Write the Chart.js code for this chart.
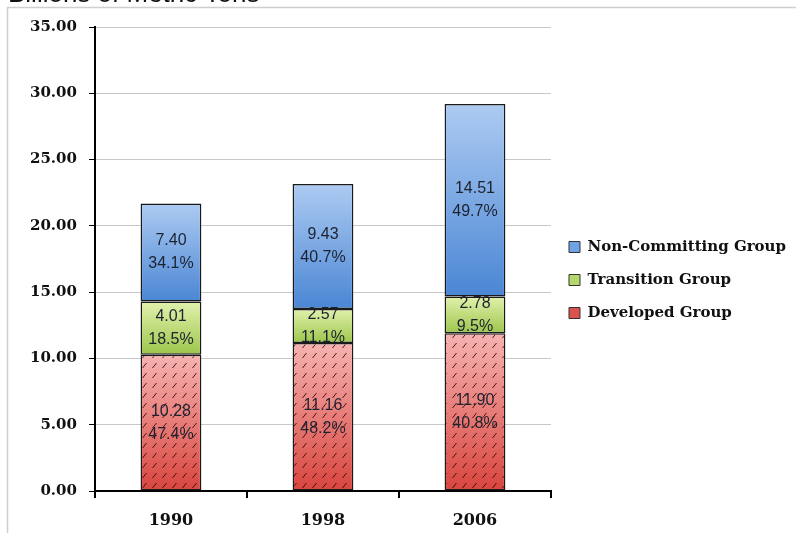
<!DOCTYPE html>
<html>
<head>
<meta charset="utf-8">
<script src="https://cdn.jsdelivr.net/npm/chart.js@4.4.1/dist/chart.umd.min.js"></script>
<style>
  html, body { margin: 0; padding: 0; background: #fff; }
  #wrap { width: 796px; height: 533px; position: relative; }
</style>
</head>
<body>
<div id="wrap"><canvas id="emissions"></canvas></div>
<script>
// Emissions by country group, billions of metric tons
const years = ['1990', '1998', '2006'];
const developed = [10.28, 11.16, 11.90];
const transition = [4.01, 2.57, 2.78];
const nonCommitting = [7.40, 9.43, 14.51];
const yTicks = [0, 5, 10, 15, 20, 25, 30, 35];

const stackOrder = [developed, transition, nonCommitting];
const totals = years.map((_, i) => stackOrder.reduce((s, arr) => s + arr[i], 0));

const SERIF = '"DejaVu Serif", "Liberation Serif", serif';
const SANS = '"Liberation Sans", Arial, sans-serif';

// vertical gradient spanning one stacked segment
function segmentFill(top, bottom) {
    return (ctx) => {
        const chart = ctx.chart;
        if (!chart.chartArea || ctx.dataIndex === undefined) return bottom;
        const ds = ctx.datasetIndex, i = ctx.dataIndex;
        let lower = 0;
        for (let k = 0; k < ds; k++) lower += stackOrder[k][i];
        const upper = lower + stackOrder[ds][i];
        const y = chart.scales.y;
        const g = chart.ctx.createLinearGradient(0, y.getPixelForValue(upper), 0, y.getPixelForValue(lower));
        g.addColorStop(0, top);
        g.addColorStop(1, bottom);
        return g;
    };
}

// short diagonal dashes laid over the developed bars
function makeHatch() {
    const c = document.createElement('canvas');
    c.width = 10; c.height = 10;
    const g = c.getContext('2d');
    g.strokeStyle = 'rgba(60,10,10,0.9)';
    g.lineWidth = 1;
    g.beginPath();
    g.moveTo(2.5, 8);
    g.lineTo(6.5, 3);
    g.stroke();
    return c;
}

const hatchPlugin = {
    id: 'hatch',
    afterDatasetsDraw(chart) {
        const ctx = chart.ctx;
        const pattern = ctx.createPattern(makeHatch(), 'repeat');
        chart.getDatasetMeta(0).data.forEach(bar => {
            const { x, y, base, width } = bar.getProps(['x', 'y', 'base', 'width'], true);
            ctx.save();
            ctx.beginPath();
            ctx.rect(x - width / 2 + 1.5, y + 1.5, width - 3, base - y - 3);
            ctx.clip();
            ctx.fillStyle = pattern;
            ctx.fillRect(x - width / 2, y, width, base - y);
            ctx.restore();
        });
    }
};

// value and share printed in the middle of each segment
const labelPlugin = {
    id: 'segmentLabels',
    afterDatasetsDraw(chart) {
        const ctx = chart.ctx;
        ctx.save();
        ctx.font = '16px ' + SANS;
        ctx.fillStyle = '#1c2230';
        ctx.textAlign = 'center';
        ctx.textBaseline = 'middle';
        chart.data.datasets.forEach((ds, d) => {
            chart.getDatasetMeta(d).data.forEach((bar, i) => {
                const { x, y, base } = bar.getProps(['x', 'y', 'base'], true);
                const mid = (y + base) / 2;
                const v = ds.data[i];
                ctx.fillText(v.toFixed(2), x, mid - 11.5);
                ctx.fillText((v / totals[i] * 100).toFixed(1) + '%', x, mid + 11.5);
            });
        });
        ctx.restore();
    }
};

// outer frame and the unit caption along the top edge
const framePlugin = {
    id: 'frame',
    beforeDraw(chart) {
        const ctx = chart.ctx;
        ctx.save();
        ctx.fillStyle = '#fff';
        ctx.fillRect(0, 0, chart.width, chart.height);
        ctx.strokeStyle = '#cfcfcf';
        ctx.lineWidth = 1.5;
        ctx.beginPath();
        ctx.moveTo(7.5, chart.height);
        ctx.lineTo(7.5, 7.5);
        ctx.lineTo(chart.width, 7.5);
        ctx.stroke();
        ctx.fillStyle = '#111';
        ctx.font = '26px ' + SANS;
        ctx.textBaseline = 'alphabetic';
        ctx.fillText('Billions of Metric Tons', 8, 2);
        ctx.restore();
    }
};

const legendFill = ['#d9534c', '#b5d86e', '#6fa3e6'];

new Chart(document.getElementById('emissions'), {
    type: 'bar',
    data: {
        labels: years,
        datasets: [
            { label: 'Developed Group', data: developed, backgroundColor: segmentFill('#f6b3b1', '#d8453e') },
            { label: 'Transition Group', data: transition, backgroundColor: segmentFill('#e2f1ad', '#9cc64b') },
            { label: 'Non-Committing Group', data: nonCommitting, backgroundColor: segmentFill('#adcbf2', '#4a86d4') }
        ]
    },
    options: {
        responsive: true,
        maintainAspectRatio: false,
        animation: false,
        datasets: {
            bar: {
                borderColor: '#1a1a1a',
                borderWidth: 1.5,
                borderSkipped: false,
                categoryPercentage: 1,
                barPercentage: 0.4
            }
        },
        layout: { padding: { left: 18, top: 27, right: 0, bottom: 0 } },
        plugins: {
            tooltip: { enabled: false },
            legend: {
                position: 'right',
                reverse: true,
                maxWidth: 300,
                labels: {
                    boxWidth: 11,
                    boxHeight: 11,
                    padding: 18,
                    color: '#111',
                    font: { family: SERIF, size: 15, weight: 'bold' },
                    generateLabels(chart) {
                        return chart.data.datasets.map((ds, i) => ({
                            text: ds.label,
                            fillStyle: legendFill[i],
                            strokeStyle: '#333',
                            lineWidth: 1,
                            datasetIndex: i,
                            fontColor: '#111'
                        }));
                    }
                }
            }
        },
        scales: {
            x: {
                stacked: true,
                afterFit(scale) { scale.height = 42; },
                grid: { drawOnChartArea: false, tickLength: 7, tickColor: '#000', lineWidth: 2 },
                border: { color: '#000', width: 2 },
                ticks: { color: '#111', padding: 13, font: { family: SERIF, size: 16, weight: 'bold' } }
            },
            y: {
                stacked: true,
                min: yTicks[0],
                max: yTicks[yTicks.length - 1],
                afterBuildTicks(scale) { scale.ticks = yTicks.map(v => ({ value: v })); },
                grid: { color: '#c8c8c8', lineWidth: 1, tickLength: 6, tickColor: '#000' },
                border: { color: '#000', width: 2 },
                ticks: {
                    color: '#111',
                    padding: 12,
                    font: { family: SERIF, size: 15, weight: 'bold' },
                    callback: v => Number(v).toFixed(2)
                }
            }
        }
    },
    plugins: [framePlugin, hatchPlugin, labelPlugin]
});
</script>
</body>
</html>
